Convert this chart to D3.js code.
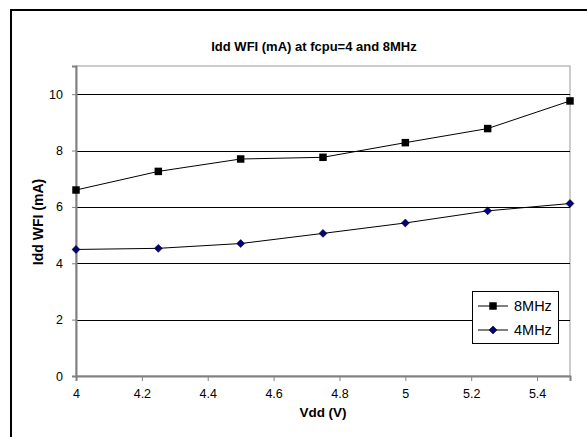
<!DOCTYPE html>
<html>
<head>
<meta charset="utf-8">
<script src="https://cdn.jsdelivr.net/npm/d3@7"></script>
<style>
  body { margin: 0; background: #fff; }
  text { font-family: Arial, "Liberation Sans", sans-serif; fill: #000; }
</style>
</head>
<body>
<div id="chart"></div>
<script>
// values
const vdd = [4, 4.25, 4.5, 4.75, 5, 5.25, 5.5]
const idd8 = [6.6, 7.26, 7.7, 7.76, 8.28, 8.78, 9.76]
const idd4 = [4.49, 4.53, 4.7, 5.06, 5.43, 5.86, 6.12]
const xTicks = [4, 4.2, 4.4, 4.6, 4.8, 5, 5.2, 5.4]
const yTicks = [0, 2, 4, 6, 8, 10]
const seriesNames = ['8MHz', '4MHz']

const width = 587, height = 437
const margin = { top: 66, right: 17, bottom: 61, left: 76 }

let svg = d3.select('#chart')
    .append('svg')
    .attr('width', width)
    .attr('height', height)

// outer chart frame, only top and left edges are inside the picture
svg.append('rect')
    .attr('x', 11).attr('y', 10)
    .attr('width', width).attr('height', height)
    .attr('fill', 'none')
    .attr('stroke', '#000')
    .attr('stroke-width', 2)

let x = d3.scaleLinear()
    .domain([4, 5.5])
    .range([margin.left, width - margin.right])

let y = d3.scaleLinear()
    .domain([0, 11])
    .range([height - margin.bottom, margin.top])

// plot area
svg.append('rect')
    .attr('x', x(4)).attr('y', y(11))
    .attr('width', x(5.5) - x(4))
    .attr('height', y(0) - y(11))
    .attr('fill', '#fff')
    .attr('stroke', '#999')
    .attr('stroke-width', 1)

// gridlines
svg.append('g')
    .selectAll('line')
    .data(yTicks.filter(d => d > 0))
    .join('line')
    .attr('x1', x(4)).attr('x2', x(5.5))
    .attr('y1', d => Math.round(y(d)) + 0.5)
    .attr('y2', d => Math.round(y(d)) + 0.5)
    .attr('stroke', '#000')
    .attr('stroke-width', 1)

// axes
let xAxis = svg.append('g')
    .attr('transform', `translate(0,${y(0)})`)
    .call(d3.axisBottom(x).tickValues(xTicks).tickSize(5).tickPadding(8).tickFormat(d3.format('')))

let yAxis = svg.append('g')
    .attr('transform', `translate(${x(4)},0)`)
    .call(d3.axisLeft(y).tickValues(yTicks).tickSize(4).tickPadding(9))

;[xAxis, yAxis].forEach(a => {
    a.select('.domain').attr('stroke', '#808080').attr('stroke-width', 2)
    a.selectAll('.tick line').attr('stroke', '#808080')
    a.selectAll('.tick text')
        .style('font-size', '12.5px')
        .style('font-family', 'Arial, "Liberation Sans", sans-serif')
        .attr('fill', '#000')
})

// series
let line = d3.line()
    .x(d => x(d[0]))
    .y(d => y(d[1]))

let s8 = vdd.map((v, i) => [v, idd8[i]])
let s4 = vdd.map((v, i) => [v, idd4[i]])

svg.append('path')
    .datum(s8)
    .attr('d', line)
    .attr('fill', 'none')
    .attr('stroke', '#000')
    .attr('stroke-width', 1)

svg.append('path')
    .datum(s4)
    .attr('d', line)
    .attr('fill', 'none')
    .attr('stroke', '#000')
    .attr('stroke-width', 1)

let square = d3.symbol().type(d3.symbolSquare).size(56)
let diamond = d3.symbol().type(d3.symbolDiamond2 || d3.symbolDiamond).size(40)

svg.append('g')
    .selectAll('path')
    .data(s8)
    .join('path')
    .attr('d', square)
    .attr('transform', d => `translate(${x(d[0])},${y(d[1])})`)
    .attr('fill', '#000')

svg.append('g')
    .selectAll('path')
    .data(s4)
    .join('path')
    .attr('d', diamond)
    .attr('transform', d => `translate(${x(d[0])},${y(d[1])})`)
    .attr('fill', '#000080')
    .attr('stroke', '#000')
    .attr('stroke-width', 0.6)

// titles
svg.append('text')
    .attr('x', 314).attr('y', 51)
    .attr('text-anchor', 'middle')
    .style('font-size', '13px')
    .style('font-weight', 'bold')
    .text('Idd WFI (mA) at fcpu=4 and 8MHz')

svg.append('text')
    .attr('x', 323).attr('y', 417)
    .attr('text-anchor', 'middle')
    .style('font-size', '13.5px')
    .style('font-weight', 'bold')
    .text('Vdd (V)')

svg.append('text')
    .attr('transform', 'translate(43,222) rotate(-90)')
    .attr('text-anchor', 'middle')
    .style('font-size', '14px')
    .style('font-weight', 'bold')
    .text('Idd WFI (mA)')

// legend
let legend = svg.append('g')
    .attr('transform', 'translate(472,291)')

legend.append('rect')
    .attr('x', 0.5).attr('y', 0.5)
    .attr('width', 86).attr('height', 52)
    .attr('fill', '#fff')
    .attr('stroke', '#000')

seriesNames.forEach((name, i) => {
    let ly = 15 + i * 24
    legend.append('line')
        .attr('x1', 6).attr('x2', 36)
        .attr('y1', ly).attr('y2', ly)
        .attr('stroke', '#000')
    legend.append('path')
        .attr('d', i == 0 ? square : diamond)
        .attr('transform', `translate(21,${ly})`)
        .attr('fill', i == 0 ? '#000' : '#000080')
        .attr('stroke', i == 0 ? 'none' : '#000')
        .attr('stroke-width', 0.6)
    legend.append('text')
        .attr('x', 42).attr('y', ly + 5)
        .style('font-size', '14.5px')
        .text(name)
})
</script>
</body>
</html>
